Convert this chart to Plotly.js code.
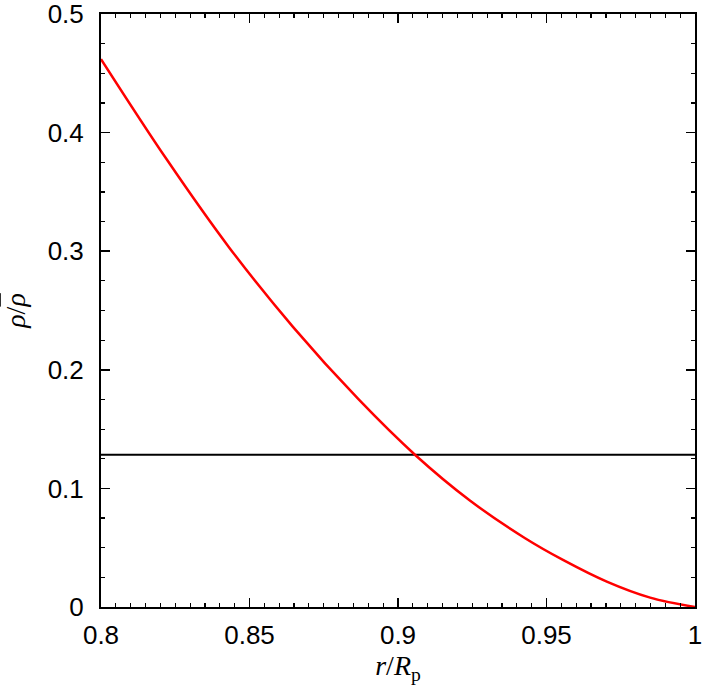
<!DOCTYPE html>
<html>
<head>
<meta charset="utf-8">
<script src="https://cdn.plot.ly/plotly-3.0.1.min.js"></script>
<style>html,body{margin:0;padding:0;background:#fff}#chart{width:709px;height:691px}</style>
</head>
<body>
<div id="chart"></div>
<script>
// r/Rp values
const rValues = [0.800, 0.8221, 0.8432, 0.8647, 0.8866, 0.9057, 0.9242, 0.9428, 0.9557, 0.9703, 0.9849, 1.000];
// rho/rhobar values
const rhoValues = [0.462, 0.3775, 0.303, 0.236, 0.1754, 0.1284, 0.0898, 0.058, 0.0395, 0.0214, 0.0079, 0.0];
// horizontal reference level
const refLevel = 0.1284;
const xRange = [0.8, 1.0];
const yRange = [0, 0.5];
const xTickVals = [0.8, 0.85, 0.9, 0.95, 1.0];
const xTickText = ['0.8', '0.85', '0.9', '0.95', '1'];
const yTickVals = [0, 0.1, 0.2, 0.3, 0.4, 0.5];
const yTickText = ['0', '0.1', '0.2', '0.3', '0.4', '0.5'];

const tickFont = {family: 'Liberation Sans, Arial, sans-serif', size: 26, color: '#000'};
const titleFont = {family: 'Liberation Serif, Times New Roman, serif', size: 28, color: '#000'};

const traces = [
  {x: xRange, y: [refLevel, refLevel], mode: 'lines', line: {color: '#000', width: 2}, hoverinfo: 'skip'},
  {x: rValues, y: rhoValues, mode: 'lines', line: {color: '#ff0000', width: 2.5, shape: 'spline', smoothing: 1}}
];

const axisCommon = {
  showgrid: false, zeroline: false, showline: true, linecolor: '#000', linewidth: 2,
  mirror: 'allticks', ticks: 'inside', ticklen: 9, tickwidth: 1.5, tickcolor: '#000',
  tickfont: tickFont, tickmode: 'array', ticklabeloverflow: 'allow'
};

const layout = {
  width: 709, height: 691,
  margin: {l: 101, r: 14, t: 14, b: 84},
  paper_bgcolor: '#fff', plot_bgcolor: '#fff',
  showlegend: false,
  xaxis: Object.assign({}, axisCommon, {
    range: xRange, tickvals: xTickVals, ticktext: xTickText,
    minor: {tickmode: 'linear', tick0: 0.8, dtick: 0.005, ticks: 'inside', ticklen: 4, tickwidth: 1.2, tickcolor: '#000'},
    ticklabelstandoff: 4,
    title: {text: '<i>r</i>/<i>R</i><sub>p</sub>', font: titleFont, standoff: 6}
  }),
  yaxis: Object.assign({}, axisCommon, {
    range: yRange, tickvals: yTickVals, ticktext: yTickText,
    minor: {tickmode: 'linear', tick0: 0, dtick: 0.025, ticks: 'inside', ticklen: 4, tickwidth: 1.2, tickcolor: '#000'},
    ticklabelstandoff: 10,
    title: {text: '<i>ρ</i>/<span style="text-decoration:overline"><i>ρ</i></span>', font: titleFont, standoff: 14}
  })
};

Plotly.newPlot('chart', traces, layout, {staticPlot: true, displayModeBar: false});
</script>
</body>
</html>
